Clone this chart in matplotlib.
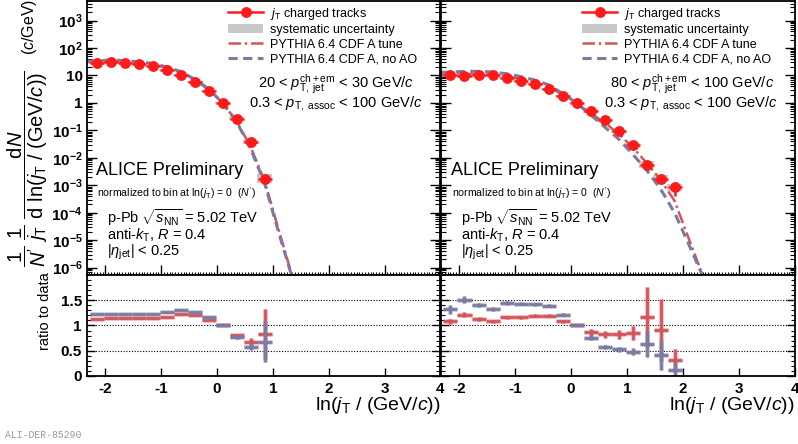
import numpy as np
import matplotlib.pyplot as plt
from matplotlib.lines import Line2D
from matplotlib.patches import Patch
from matplotlib.ticker import FixedLocator, MultipleLocator, NullFormatter

plt.rcParams['font.family'] = ['Liberation Sans', 'DejaVu Sans']
plt.rcParams['mathtext.fontset'] = 'custom'
plt.rcParams['mathtext.rm'] = 'Liberation Sans'
plt.rcParams['mathtext.it'] = 'Liberation Sans:italic'
plt.rcParams['mathtext.bf'] = 'Liberation Sans:bold'
plt.rcParams['axes.unicode_minus'] = False

# ---- 20 < pT,jet < 30 GeV/c ----
x_20 = [-2.15, -1.9, -1.65, -1.4, -1.15, -0.9, -0.65, -0.4, -0.15, 0.1, 0.35, 0.6, 0.85]
data_20 = [28, 29.7, 28, 25.8, 22.5, 16.1, 10.6, 5.7, 2.78, 1.0, 0.266, 0.0376, 0.00175]
stat_20 = [0.01, 0.01, 0.01, 0.01, 0.01, 0.01, 0.01, 0.01, 0.01, 0.01, 0.03, 0.08, 0.25]
syst_20 = [1.08, 1.08, 1.08, 1.08, 1.08, 1.08, 1.08, 1.08, 1.08, 1.08, 1.12, 1.2, 1.5]
ratio_tune_20 = [1.125, 1.14, 1.14, 1.14, 1.14, 1.165, 1.22, 1.20, 1.11, 1.0, 0.81, 0.68, 0.83]
ratio_noao_20 = [1.22, 1.235, 1.235, 1.22, 1.22, 1.26, 1.31, 1.26, 1.165, 1.0, 0.77, 0.575, 0.68]
rerr_tune_20 = [0.01, 0.01, 0.01, 0.01, 0.01, 0.01, 0.01, 0.01, 0.01, 0.01, 0.03, 0.08, 0.49]
rerr_noao_20 = [0.01, 0.01, 0.01, 0.01, 0.01, 0.01, 0.01, 0.01, 0.01, 0.01, 0.03, 0.07, 0.41]
curve_x_20 = [-2.32, -2.15, -1.9, -1.65, -1.4, -1.15, -0.9, -0.65, -0.4, -0.15, 0.1, 0.35, 0.6, 0.85, 1.1, 1.35]
tune_20 = [31, 31.5, 33.9, 31.9, 29.4, 25.7, 18.8, 12.9, 6.84, 3.09, 1.0, 0.215, 0.0256, 0.00145, 2.5e-5, 4.6e-7]
noao_20 = [33, 34.2, 36.7, 34.6, 31.5, 27.5, 20.3, 13.9, 7.18, 3.24, 1.0, 0.205, 0.0216, 0.00119, 2e-5, 4e-7]

# ---- 80 < pT,jet < 100 GeV/c ----
x_80 = [-2.15, -1.9, -1.65, -1.4, -1.15, -0.9, -0.65, -0.4, -0.15, 0.1, 0.35, 0.6, 0.85,
        1.1, 1.35, 1.6, 1.85]
data_80 = [10, 9.4, 10, 10, 8.0, 6.4, 4.83, 3.28, 1.83, 1.0, 0.49, 0.231, 0.092,
           0.0285, 5.66e-3, 1.75e-3, 8.45e-4]
stat_80 = [0.01, 0.01, 0.01, 0.01, 0.01, 0.01, 0.01, 0.01, 0.01, 0.01, 0.02, 0.03, 0.05,
           0.08, 0.15, 0.3, 0.5]
syst_80 = [1.08, 1.08, 1.08, 1.08, 1.08, 1.08, 1.08, 1.08, 1.08, 1.08, 1.1, 1.12, 1.15,
           1.25, 1.3, 1.3, 1.35]
ratio_tune_80 = [1.08, 1.21, 1.13, 1.08, 1.165, 1.165, 1.19, 1.197, 1.08, 1.0, 0.87, 0.83,
                 0.83, 0.85, 1.165, 0.91, 0.32]
ratio_noao_80 = [1.32, 1.51, 1.41, 1.33, 1.45, 1.43, 1.42, 1.39, 1.21, 1.0, 0.76, 0.58,
                 0.53, 0.48, 0.635, 0.42, 0.12]
rerr_tune_80 = [0.05, 0.05, 0.04, 0.03, 0.03, 0.03, 0.03, 0.03, 0.03, 0.01, 0.07, 0.07,
                0.09, 0.13, 0.6, 0.62, 0.22]
rerr_noao_80 = [0.09, 0.07, 0.04, 0.04, 0.04, 0.03, 0.03, 0.03, 0.03, 0.01, 0.05, 0.04,
                0.05, 0.07, 0.26, 0.3, 0.15]
curve_x_80 = [-2.32, -2.15, -1.9, -1.65, -1.4, -1.15, -0.9, -0.65, -0.4, -0.15, 0.1, 0.35,
              0.6, 0.85, 1.1, 1.35, 1.6, 1.85, 2.1, 2.4]
tune_80 = [10.5, 10.8, 11.4, 11.3, 10.8, 9.3, 7.46, 5.75, 3.93, 1.98, 1.0, 0.426, 0.192,
           0.0764, 0.0242, 6.6e-3, 1.6e-3, 2.7e-4, 1.2e-5, 2.9e-7]
noao_80 = [13, 13.2, 14.2, 14.1, 13.3, 11.6, 9.15, 6.86, 4.56, 2.21, 1.0, 0.372, 0.134,
           0.0488, 0.0137, 3.6e-3, 7.35e-4, 1.0e-4, 7.4e-6, 3e-7]

RED = '#ff1a1a'
TUNE = '#d2555a'
NOAO = '#7a7aa2'
BOX = '#c9c9c9'

fig = plt.figure(figsize=(7.98, 4.44), dpi=100)
ax_l = fig.add_axes([0.1096, 0.3806, 0.4424, 0.6182])
ax_r = fig.add_axes([0.5526, 0.3806, 0.4436, 0.6182])
rat_l = fig.add_axes([0.1096, 0.1532, 0.4424, 0.2275])
rat_r = fig.add_axes([0.5526, 0.1532, 0.4436, 0.2275])

decades = [1e-6, 1e-5, 1e-4, 1e-3, 1e-2, 1e-1, 1, 10, 1e2, 1e3]
dec_labels = [r'$\mathbf{10^{-6}}$', r'$\mathbf{10^{-5}}$', r'$\mathbf{10^{-4}}$',
              r'$\mathbf{10^{-3}}$', r'$\mathbf{10^{-2}}$', r'$\mathbf{10^{-1}}$',
              '1', '10', r'$\mathbf{10^{2}}$', r'$\mathbf{10^{3}}$']
minor_log = [m * 10.0 ** e for e in range(-7, 4) for m in range(2, 10)]


def draw_top(ax, x, data, stat, syst, cx, tune, noao):
    x = np.array(x)
    data = np.array(data)
    lo = data / np.array(syst)
    hi = data * np.array(syst)
    ax.bar(x, hi - lo, bottom=lo, width=0.28, color=BOX, zorder=1)
    ax.plot(cx, tune, color=TUNE, lw=1.8, ls=(0, (5, 1.5, 1, 1.5)), zorder=2)
    ax.plot(cx, noao, color=NOAO, lw=2.2, ls=(0, (3, 1.8)), zorder=2)
    ax.errorbar(x, data, xerr=0.125, yerr=data * np.array(stat), fmt='o', color=RED,
                ms=6.8, elinewidth=1.8, capsize=0, zorder=4)
    ax.set_yscale('log')
    ax.set_xlim(-2.32, 4)
    ax.set_ylim(10 ** -6.27, 10 ** 3.73)
    ax.yaxis.set_major_locator(FixedLocator(decades))
    ax.yaxis.set_minor_locator(FixedLocator(minor_log))
    ax.yaxis.set_minor_formatter(NullFormatter())
    ax.xaxis.set_major_locator(MultipleLocator(1))
    ax.xaxis.set_minor_locator(MultipleLocator(0.05))
    ax.tick_params(which='both', direction='in', left=True, right=True, top=False,
                   labelbottom=False)
    ax.tick_params(which='major', length=7, width=1.0)
    ax.tick_params(which='minor', length=3.5, width=0.8)
    ax.tick_params(axis='x', which='minor', length=2)
    for s in ax.spines.values():
        s.set_linewidth(1.3)

    handles = [Line2D([], [], color=RED, marker='o', ms=6.8, lw=1.8),
               Patch(facecolor=BOX, edgecolor='none'),
               Line2D([], [], color=TUNE, lw=1.8, ls=(0, (5, 1.5, 1, 1.5))),
               Line2D([], [], color=NOAO, lw=2.2, ls=(0, (3, 1.8)))]
    labels = [r'$j_{\rm T}$ charged tracks', 'systematic uncertainty',
              'PYTHIA 6.4 CDF A tune', 'PYTHIA 6.4 CDF A, no AO']
    ax.legend(handles, labels, loc='upper left', bbox_to_anchor=(0.385, 1.0),
              frameon=False, fontsize=9, handlelength=2.8, handletextpad=0.5,
              labelspacing=0.2, borderaxespad=0.15, borderpad=0.25)


def draw_ratio(ax, x, r_tune, e_tune, r_noao, e_noao):
    for r, e, c in [(r_tune, e_tune, TUNE), (r_noao, e_noao, NOAO)]:
        ax.errorbar(x, r, xerr=0.125, yerr=e, fmt='none', ecolor=c, elinewidth=3.6,
                    alpha=0.35, capsize=0)
        ax.errorbar(x, r, xerr=0.125, yerr=e, fmt='none', ecolor=c, elinewidth=2.0,
                    capsize=0)
    for g in [0.5, 1.0, 1.5]:
        ax.axhline(g, color='black', lw=0.8, ls=(0, (1, 1.5)), zorder=0)
    ax.set_xlim(-2.32, 4)
    ax.set_ylim(0, 2)
    ax.xaxis.set_major_locator(MultipleLocator(1))
    ax.yaxis.set_major_locator(FixedLocator([0, 0.5, 1, 1.5]))
    ax.yaxis.set_minor_locator(MultipleLocator(0.1))
    ax.tick_params(which='both', direction='in', left=True, right=True, top=False)
    ax.tick_params(which='major', length=6, width=1.0, labelsize=11, pad=4)
    ax.tick_params(which='minor', length=3, width=0.8)
    for s in ax.spines.values():
        s.set_linewidth(1.3)
    ax.text(1.0, -0.34, r'ln($j_{\rm T}$ / (GeV/$c$))', transform=ax.transAxes,
            ha='right', va='baseline', fontsize=14)


draw_top(ax_l, x_20, data_20, stat_20, syst_20, curve_x_20, tune_20, noao_20)
draw_top(ax_r, x_80, data_80, stat_80, syst_80, curve_x_80, tune_80, noao_80)
draw_ratio(rat_l, x_20, ratio_tune_20, rerr_tune_20, ratio_noao_20, rerr_noao_20)
draw_ratio(rat_r, x_80, ratio_tune_80, rerr_tune_80, ratio_noao_80, rerr_noao_80)

ax_l.set_yticklabels(dec_labels, fontsize=11, fontweight='bold')
ax_r.tick_params(labelleft=False)
rat_r.tick_params(labelleft=False)
for rat in (rat_l, rat_r):
    rat.set_xticks([-2, -1, 0, 1, 2, 3, 4])
    rat.set_xticklabels(['-2', '-1', '0', '1', '2', '3', '4'], fontweight='bold')
rat_l.set_yticklabels(['0', '0.5', '1', '1.5'], fontweight='bold')

# labels inside the panels
ax_l.text(0.483, 0.697, r'20 < $p_{\rm T,\ jet}^{\rm ch+em}$ < 30 GeV/$c$',
          transform=ax_l.transAxes, fontsize=10.5, va='center')
ax_l.text(0.4575, 0.624, r'0.3 < $p_{\rm T,\ assoc}$ < 100 GeV/$c$',
          transform=ax_l.transAxes, fontsize=10.5, va='center')
ax_r.text(0.477, 0.697, r'80 < $p_{\rm T,\ jet}^{\rm ch+em}$ < 100 GeV/$c$',
          transform=ax_r.transAxes, fontsize=10.5, va='center')
ax_r.text(0.46, 0.624, r'0.3 < $p_{\rm T,\ assoc}$ < 100 GeV/$c$',
          transform=ax_r.transAxes, fontsize=10.5, va='center')

for ax, x0 in [(ax_l, 0.024), (ax_r, 0.027)]:
    ax.text(x0, 0.381, 'ALICE Preliminary', transform=ax.transAxes, fontsize=13,
            va='center')
    ax.text(x0 + 0.003, 0.30, r"normalized to bin at ln($j_{\rm T}$) = 0  ($N'$)",
            transform=ax.transAxes, fontsize=7.6, va='center')
    ax.text(x0 + 0.03, 0.207, r'p-Pb $\sqrt{s_{\rm NN}}$ = 5.02 TeV',
            transform=ax.transAxes, fontsize=10.5, va='center')
    ax.text(x0 + 0.03, 0.144, r'anti-$k_{\rm T}$, $R$ = 0.4',
            transform=ax.transAxes, fontsize=10.5, va='center')
    ax.text(x0 + 0.03, 0.083, r'|$\eta_{\rm jet}$| < 0.25',
            transform=ax.transAxes, fontsize=10.5, va='center')

fig.text(0.035, 0.62,
         r"$\dfrac{1}{N'}\ \dfrac{1}{j_{\rm T}}\ \dfrac{{\rm d}N}{{\rm d}\ \ln(j_{\rm T}\ /\ ({\rm GeV}/c))}$",
         rotation=90, ha='center', va='center', fontsize=14.5)
fig.text(0.037, 0.94, r'($c$/GeV)', rotation=90, ha='center', va='center', fontsize=11.5)
fig.text(0.056, 0.30, 'ratio to data', rotation=90, ha='center', va='center', fontsize=10.5)
fig.text(0.006, 0.02, 'ALI-DER-85290', fontsize=7, color='#999999',
         family='Liberation Mono', ha='left', va='center')

fig.savefig('out.png', dpi=100)
